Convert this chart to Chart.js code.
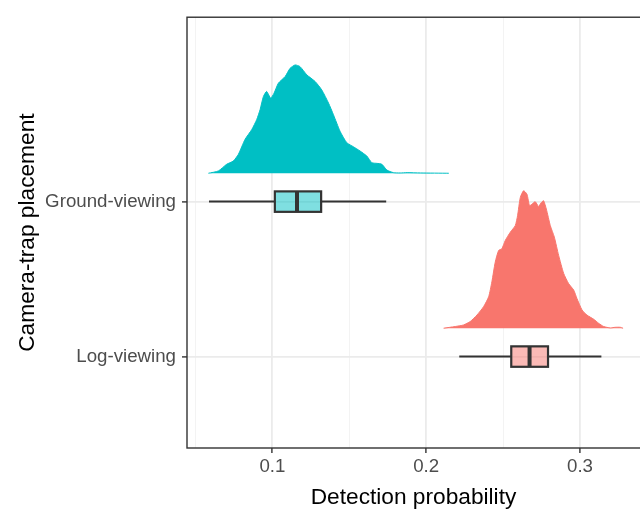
<!DOCTYPE html>
<html>
<head>
<meta charset="utf-8">
<script src="https://cdn.jsdelivr.net/npm/chart.js@4.4.1/dist/chart.umd.min.js"></script>
<style>
html, body { margin: 0; padding: 0; background: #fff; overflow: hidden; }
canvas { display: block; }
</style>
</head>
<body>
<canvas id="chart" width="640" height="511"></canvas>
<script>
// categories, bottom to top on the y axis
const categories = ['Log-viewing', 'Ground-viewing'];
const fillColors = ['#F8766D', '#00BFC4'];
const boxFills = ['rgba(248,118,109,0.5)', 'rgba(0,191,196,0.5)'];

// boxplot stats (same order as categories)
const whiskerLow = [0.2215, 0.0588];
const q1 = [0.2553, 0.1016];
const median = [0.2672, 0.1160];
const q3 = [0.2792, 0.1317];
const whiskerHigh = [0.3139, 0.1740];

// density curves: x = detection probability, height in category units
const logX = [0.2113, 0.2189, 0.2243, 0.2286, 0.2330, 0.2373, 0.2406, 0.2427, 0.2449, 0.2471,
  0.2492, 0.2514, 0.2547, 0.2579, 0.2594, 0.2612, 0.2633, 0.2655, 0.2672, 0.2688,
  0.2709, 0.2731, 0.2746, 0.2763, 0.2781, 0.2807, 0.2833, 0.2861, 0.2894, 0.2926,
  0.2959, 0.2980, 0.3013, 0.3045, 0.3089, 0.3121, 0.3154, 0.3197, 0.3230, 0.3262,
  0.3280];
const logDens = [0, 0.011, 0.021, 0.043, 0.085, 0.139, 0.203, 0.299, 0.427, 0.502,
  0.513, 0.566, 0.620, 0.662, 0.726, 0.844, 0.887, 0.865, 0.791, 0.801,
  0.816, 0.786, 0.808, 0.823, 0.769, 0.662, 0.588, 0.470, 0.353, 0.288,
  0.246, 0.192, 0.118, 0.085, 0.058, 0.032, 0.011, 0.002, 0.006, 0.006,
  0];

const groundX = [0.0584, 0.0649, 0.0703, 0.0746, 0.0779, 0.0822, 0.0866, 0.0898, 0.0920, 0.0942,
  0.0963, 0.0989, 0.1011, 0.1039, 0.1083, 0.1115, 0.1148, 0.1180, 0.1224, 0.1278,
  0.1321, 0.1365, 0.1397, 0.1440, 0.1484, 0.1527, 0.1571, 0.1614, 0.1647, 0.1679,
  0.1712, 0.1744, 0.1787, 0.1831, 0.1876, 0.1963, 0.2147];
const groundDens = [0, 0.015, 0.058, 0.079, 0.122, 0.218, 0.282, 0.346, 0.410, 0.496,
  0.528, 0.485, 0.517, 0.581, 0.624, 0.677, 0.699, 0.688, 0.635, 0.592,
  0.538, 0.453, 0.378, 0.271, 0.197, 0.171, 0.143, 0.111, 0.068, 0.064,
  0.058, 0.021, 0.004, 0.002, 0.004, 0.002, 0];

const densX = [logX, groundX];
const densY = [logDens, groundDens];

const xTickValues = [0.05, 0.1, 0.15, 0.2, 0.25, 0.3];
const xTickLabels = ['', '0.1', '', '0.2', '', '0.3'];
const xMajor = [false, true, false, true, false, true];

const DENS_NUDGE = 0.183;
const BOX_HALF = 0.066;
const FONT = '"Liberation Sans", Arial, sans-serif';

const datasets = categories.map(function (c, i) {
    const base = i + 1 + DENS_NUDGE;
    return {
        label: c,
        data: densX[i].map(function (x, k) { return {x: x, y: base + densY[i][k]}; }),
        backgroundColor: fillColors[i],
        borderColor: fillColors[i],
        borderWidth: 1,
        pointRadius: 0,
        tension: 0.2,
        fill: {value: base}
    };
});

// boxplots drawn from the scales
const boxPlugin = {
    id: 'boxes',
    afterDatasetsDraw(chart) {
        const ctx = chart.ctx;
        const xs = chart.scales.x, ys = chart.scales.y;
        ctx.save();
        categories.forEach(function (c, i) {
            const yc = ys.getPixelForValue(i + 1);
            const yTop = ys.getPixelForValue(i + 1 + BOX_HALF);
            const yBot = ys.getPixelForValue(i + 1 - BOX_HALF);
            const xLo = xs.getPixelForValue(whiskerLow[i]);
            const xQ1 = xs.getPixelForValue(q1[i]);
            const xMed = xs.getPixelForValue(median[i]);
            const xQ3 = xs.getPixelForValue(q3[i]);
            const xHi = xs.getPixelForValue(whiskerHigh[i]);
            ctx.strokeStyle = '#333333';
            ctx.lineWidth = 2;
            ctx.beginPath();
            ctx.moveTo(xLo, yc); ctx.lineTo(xQ1, yc);
            ctx.moveTo(xQ3, yc); ctx.lineTo(xHi, yc);
            ctx.stroke();
            ctx.fillStyle = boxFills[i];
            ctx.fillRect(xQ1, yTop, xQ3 - xQ1, yBot - yTop);
            ctx.lineWidth = 2.2;
            ctx.strokeRect(xQ1, yTop, xQ3 - xQ1, yBot - yTop);
            ctx.lineWidth = 4;
            ctx.beginPath();
            ctx.moveTo(xMed, yTop); ctx.lineTo(xMed, yBot);
            ctx.stroke();
        });
        ctx.restore();
    },
    afterDraw(chart) {
        const a = chart.chartArea, ctx = chart.ctx;
        ctx.save();
        ctx.strokeStyle = '#333333';
        ctx.lineWidth = 1.4;
        ctx.strokeRect(a.left, a.top, a.right - a.left + 4, a.bottom - a.top);
        ctx.restore();
    }
};

new Chart(document.getElementById('chart'), {
    type: 'line',
    data: {datasets: datasets},
    options: {
        responsive: false,
        animation: false,
        devicePixelRatio: 1,
        layout: {padding: {top: 14, right: 0, bottom: 0, left: 0}},
        plugins: {legend: {display: false}, tooltip: {enabled: false}},
        scales: {
            x: {
                type: 'linear',
                min: 0.0445,
                max: 0.339,
                afterBuildTicks: function (scale) {
                    scale.ticks = xTickValues.map(function (v) { return {value: v}; });
                },
                afterFit: function (scale) { scale.height = 63; },
                ticks: {
                    autoSkip: false,
                    maxRotation: 0,
                    padding: 3,
                    color: '#4D4D4D',
                    font: {family: FONT, size: 18.7},
                    callback: function (v, idx) { return xTickLabels[idx]; }
                },
                grid: {
                    color: function (c) { return xMajor[c.index] ? '#EBEBEB' : '#F3F3F3'; },
                    lineWidth: function (c) { return xMajor[c.index] ? 1.8 : 1; },
                    tickColor: function (c) { return xMajor[c.index] ? '#333333' : 'rgba(0,0,0,0)'; },
                    tickLength: 5,
                    tickWidth: 1.4
                },
                border: {display: false},
                title: {
                    display: true,
                    text: 'Detection probability',
                    color: '#000000',
                    font: {family: FONT, size: 22.7},
                    padding: {top: 0, bottom: 0}
                }
            },
            y: {
                type: 'linear',
                min: 0.41,
                max: 3.19,
                afterBuildTicks: function (scale) {
                    scale.ticks = categories.map(function (c, i) { return {value: i + 1}; });
                },
                afterFit: function (scale) { scale.width = 187; },
                ticks: {
                    autoSkip: false,
                    padding: 6,
                    color: '#4D4D4D',
                    font: {family: FONT, size: 18.7},
                    callback: function (v) { return categories[Math.round(v) - 1]; }
                },
                grid: {
                    color: '#EBEBEB',
                    lineWidth: 1.8,
                    tickColor: '#333333',
                    tickLength: 5,
                    tickWidth: 1.4
                },
                border: {display: false},
                title: {
                    display: true,
                    text: 'Camera-trap placement',
                    color: '#000000',
                    font: {family: FONT, size: 22.7},
                    padding: {top: 14, bottom: 0}
                }
            }
        }
    },
    plugins: [boxPlugin]
});
</script>
</body>
</html>
